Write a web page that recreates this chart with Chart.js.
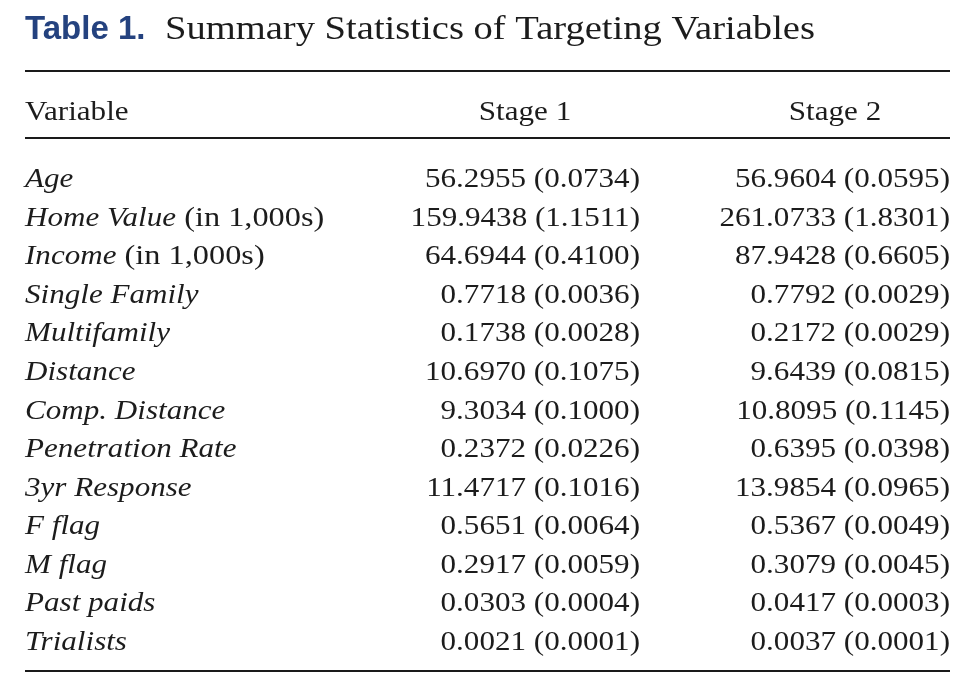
<!DOCTYPE html>
<html>
<head>
<meta charset="utf-8">
<title>Table 1. Summary Statistics of Targeting Variables</title>
<script src="https://cdn.jsdelivr.net/npm/chart.js"></script>
<style>
  body { margin: 0; background: #fff; }
  canvas { display: block; }
</style>
</head>
<body>
<canvas id="tableChart" width="980" height="680"></canvas>
<script>
// Table 1 - summary statistics, drawn on a Chart.js canvas
const tableTitle = 'Summary Statistics of Targeting Variables';
const tableTag = 'Table 1.';
const columnHeaders = ['Variable', 'Stage 1', 'Stage 2'];

const rowLabels = ['Age', 'Home Value', 'Income', 'Single Family', 'Multifamily', 'Distance',
    'Comp. Distance', 'Penetration Rate', '3yr Response', 'F flag', 'M flag', 'Past paids', 'Trialists'];
const rowNotes = ['', ' (in 1,000s)', ' (in 1,000s)', '', '', '', '', '', '', '', '', '', ''];

const stage1Mean = [56.2955, 159.9438, 64.6944, 0.7718, 0.1738, 10.6970, 9.3034, 0.2372, 11.4717, 0.5651, 0.2917, 0.0303, 0.0021];
const stage1SE = [0.0734, 1.1511, 0.4100, 0.0036, 0.0028, 0.1075, 0.1000, 0.0226, 0.1016, 0.0064, 0.0059, 0.0004, 0.0001];
const stage2Mean = [56.9604, 261.0733, 87.9428, 0.7792, 0.2172, 9.6439, 10.8095, 0.6395, 13.9854, 0.5367, 0.3079, 0.0417, 0.0037];
const stage2SE = [0.0595, 1.8301, 0.6605, 0.0029, 0.0029, 0.0815, 0.1145, 0.0398, 0.0965, 0.0049, 0.0045, 0.0003, 0.0001];

const SERIF = '"Liberation Serif", "DejaVu Serif", serif';
const INK = '#1c1c1c';

function cell(mean, se) {
    return mean.toFixed(4) + ' (' + se.toFixed(4) + ')';
}

// text squeezed/stretched so a sample string hits the width seen in the print
function drawScaled(ctx, text, x, y, sx, align) {
    ctx.save();
    ctx.translate(x, y);
    ctx.scale(sx, 1);
    ctx.textAlign = align || 'left';
    ctx.fillText(text, 0, 0);
    ctx.restore();
}

const tablePlugin = {
    id: 'tablePlugin',
    afterDraw(chart) {
        const ctx = chart.ctx;
        const area = chart.chartArea;
        const yScale = chart.scales.y;
        const left = area.left;
        const right = area.right;

        ctx.save();
        ctx.textBaseline = 'alphabetic';

        // title
        ctx.fillStyle = '#24427f';
        ctx.font = 'bold 33px "Liberation Sans", Arial, sans-serif';
        ctx.fillText(tableTag, left, 39);

        ctx.fillStyle = INK;
        ctx.font = '33px ' + SERIF;
        const titleSx = 650 / ctx.measureText(tableTitle).width;
        drawScaled(ctx, tableTitle, 165, 39, titleSx);

        // rules
        ctx.strokeStyle = '#1a1a1a';
        ctx.lineWidth = 2;
        [71, 138, 671].forEach(y => {
            ctx.beginPath();
            ctx.moveTo(left, y);
            ctx.lineTo(right, y);
            ctx.stroke();
        });

        // body scale from a sample cell
        ctx.font = '27px ' + SERIF;
        const sx = 215 / ctx.measureText(cell(stage1Mean[0], stage1SE[0])).width;

        // header
        drawScaled(ctx, columnHeaders[0], left, 120, sx, 'left');
        drawScaled(ctx, columnHeaders[1], 525, 120, sx, 'center');
        drawScaled(ctx, columnHeaders[2], 835, 120, sx, 'center');

        // rows
        rowLabels.forEach((label, i) => {
            const y = yScale.getPixelForValue(i) + 10;
            ctx.font = 'italic 27px ' + SERIF;
            drawScaled(ctx, label, left, y, sx, 'left');
            const w = ctx.measureText(label).width * sx;
            if (rowNotes[i]) {
                ctx.font = '27px ' + SERIF;
                drawScaled(ctx, rowNotes[i], left + w, y, sx * 1.04, 'left');
            }
            ctx.font = '27px ' + SERIF;
            drawScaled(ctx, cell(stage1Mean[i], stage1SE[i]), 640, y, sx, 'right');
            drawScaled(ctx, cell(stage2Mean[i], stage2SE[i]), right, y, sx, 'right');
        });

        ctx.restore();
    }
};

new Chart(document.getElementById('tableChart').getContext('2d'), {
    type: 'scatter',
    data: { datasets: [] },
    options: {
        responsive: false,
        animation: false,
        layout: { padding: { top: 158, bottom: 21, left: 25, right: 30 } },
        scales: {
            x: { display: false, min: 0, max: 1 },
            y: { type: 'category', labels: rowLabels, offset: true, display: false }
        },
        plugins: {
            legend: { display: false },
            tooltip: { enabled: false }
        }
    },
    plugins: [tablePlugin]
});
</script>
</body>
</html>
